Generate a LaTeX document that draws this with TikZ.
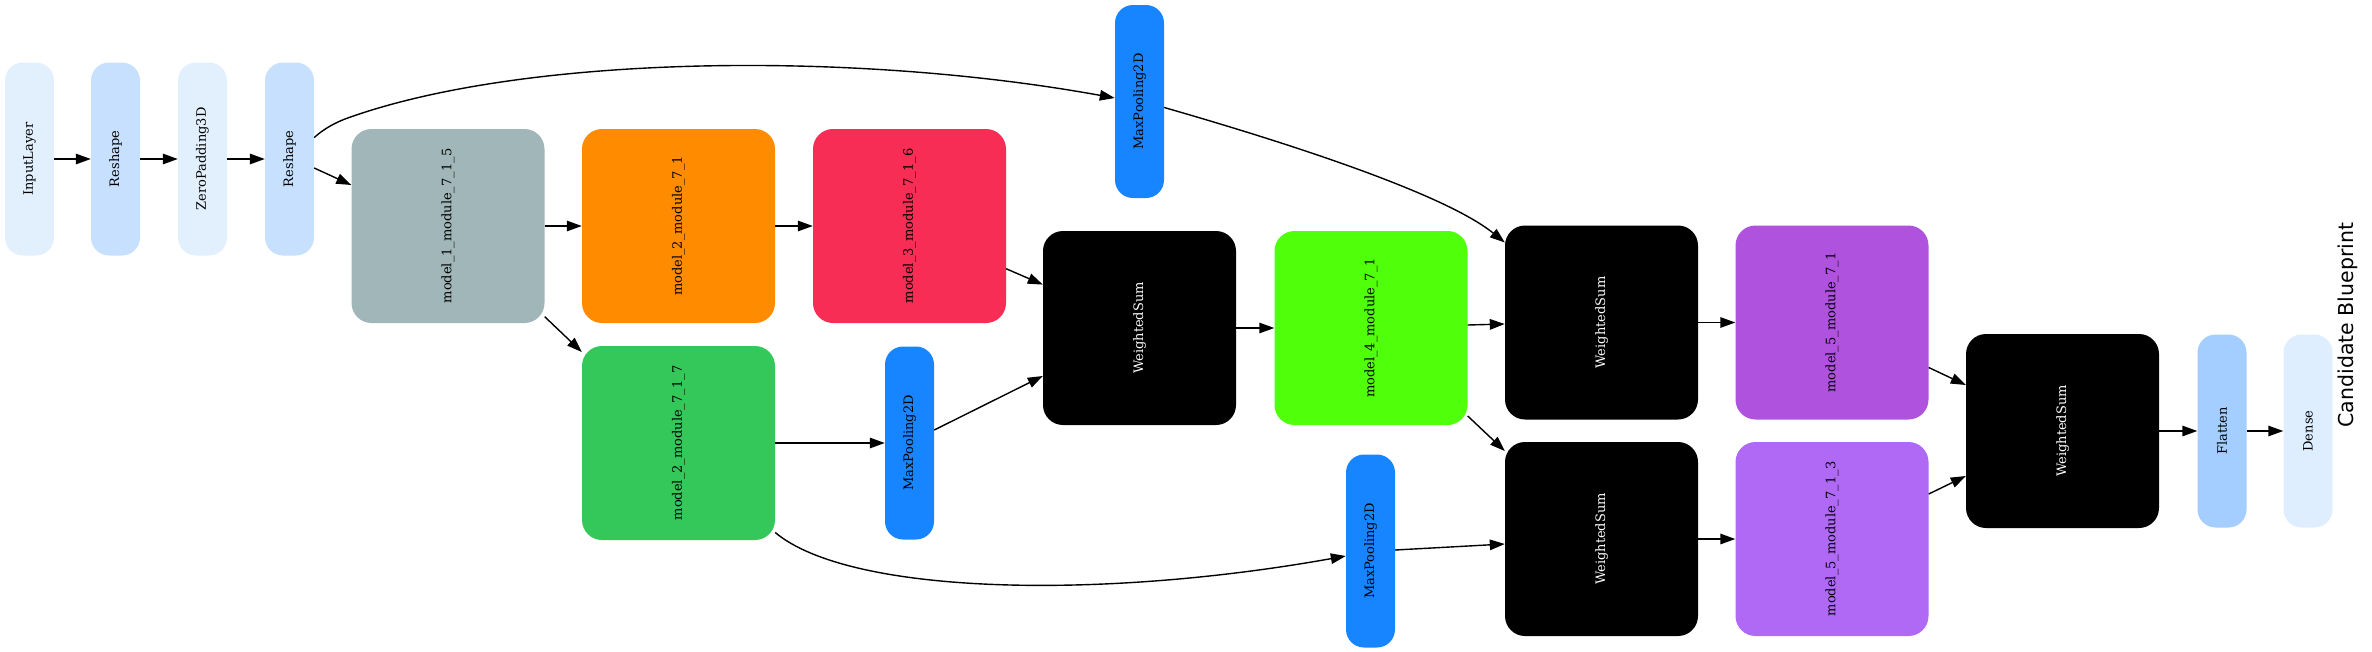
\documentclass[tikz,border=0pt]{standalone}
\usepackage{fontspec}
\usetikzlibrary{arrows.meta,calc}
\newfontfamily\nodeserif{DejaVu Serif}
\newfontfamily\titlesans{DejaVu Sans}
\definecolor{cInput}{RGB}{226,240,254}
\definecolor{cReshape}{RGB}{198,224,254}
\definecolor{cGrayTeal}{RGB}{160,182,184}
\definecolor{cOrange}{RGB}{255,140,0}
\definecolor{cRed}{RGB}{247,45,85}
\definecolor{cBlue}{RGB}{22,133,255}
\definecolor{cGreen}{RGB}{52,199,89}
\definecolor{cLime}{RGB}{80,255,10}
\definecolor{cPurpleA}{RGB}{175,82,222}
\definecolor{cPurpleB}{RGB}{176,105,245}
\definecolor{cFlatten}{RGB}{163,206,255}
\definecolor{cDense}{RGB}{222,238,255}
\tikzset{
  basebox/.style={rectangle, inner sep=0pt, font={\nodeserif\fontsize{13}{15}\selectfont}},
  smallbox/.style={basebox, minimum width=49pt, minimum height=193pt, rounded corners=18pt},
  bigbox/.style={basebox, minimum width=193pt, minimum height=194pt, rounded corners=20pt},
  wsbox/.style={bigbox, fill=black, text=white},
  edge/.style={line width=1.4pt, -{Triangle[length=15pt,width=10.5pt]}}
}
\newcommand{\vtext}[1]{\rotatebox{90}{#1}}
\begin{document}
\begin{tikzpicture}[x=1pt,y=-1pt]
\useasboundingbox (0,0) rectangle (2372,651);
% nodes
\node[smallbox, fill=cInput]   (inl) at (29.5,159)  {\vtext{InputLayer}};
\node[smallbox, fill=cReshape] (rs1) at (115.5,159) {\vtext{Reshape}};
\node[smallbox, fill=cInput]   (zp)  at (202.5,159) {\vtext{ZeroPadding3D}};
\node[smallbox, fill=cReshape] (rs2) at (289.5,159) {\vtext{Reshape}};
\node[bigbox, fill=cGrayTeal]  (m1)  at (448,226)   {\vtext{model\_1\_module\_7\_1\_5}};
\node[bigbox, fill=cOrange]    (m2a) at (678.5,226) {\vtext{model\_2\_module\_7\_1}};
\node[bigbox, fill=cGreen]     (m2b) at (678.5,443) {\vtext{model\_2\_module\_7\_1\_7}};
\node[bigbox, fill=cRed]       (m3)  at (909.5,226) {\vtext{model\_3\_module\_7\_1\_6}};
\node[smallbox, fill=cBlue]    (mpT) at (1139.5,101.5) {\vtext{MaxPooling2D}};
\node[smallbox, fill=cBlue]    (mpM) at (909.5,443) {\vtext{MaxPooling2D}};
\node[wsbox]                   (ws1) at (1139.5,328) {\vtext{WeightedSum}};
\node[bigbox, fill=cLime]      (m4)  at (1371,328)  {\vtext{model\_4\_module\_7\_1}};
\node[smallbox, fill=cBlue]    (mpB) at (1370.5,551) {\vtext{MaxPooling2D}};
\node[wsbox]                   (wsT) at (1601.5,322.5) {\vtext{WeightedSum}};
\node[wsbox]                   (wsB) at (1601.5,539) {\vtext{WeightedSum}};
\node[bigbox, fill=cPurpleA]   (m5a) at (1832,322.5) {\vtext{model\_5\_module\_7\_1}};
\node[bigbox, fill=cPurpleB]   (m5b) at (1832,539)  {\vtext{model\_5\_module\_7\_1\_3}};
\node[wsbox]                   (wsF) at (2062.5,431) {\vtext{WeightedSum}};
\node[smallbox, fill=cFlatten] (fl)  at (2222,431)  {\vtext{Flatten}};
\node[smallbox, fill=cDense]   (de)  at (2308,431)  {\vtext{Dense}};
\node[inner sep=0pt, font={\titlesans\fontsize{20.5}{24}\selectfont}] (title) at (2348,325) {\vtext{Candidate Blueprint}};
% edges
\draw[edge] (inl) -- (rs1);
\draw[edge] (rs1) -- (zp);
\draw[edge] (zp) -- (rs2);
\draw[edge] ($(rs2.east)+(0,9)$) -- ($(m1.west)+(0,-41)$);
\draw[edge] ($(rs2.east)+(0,-21.5)$) .. controls (325,128) and (335,123) .. (345,119)
   .. controls (520,55) and (850,50) .. ($(mpT.west)+(0,-3.5)$);
\draw[edge] (m1) -- (m2a);
\draw[edge] ($(m1.east)+(0,90.7)$) -- ($(m2b.west)+(0,-91)$);
\draw[edge] (m2a) -- (m3);
\draw[edge] ($(m3.east)+(0,42.75)$) -- ($(ws1.west)+(0,-43.4)$);
\draw[edge] (m2b) -- (mpM);
\draw[edge] ($(mpM.east)+(0,-13)$) -- ($(ws1.west)+(0,48)$);
\draw[edge] ($(m2b.east)+(0,89.5)$) .. controls (850,595) and (1100,600) .. ($(mpB.west)+(0,5)$);
\draw[edge] (ws1) -- (m4);
\draw[edge] ($(mpT.east)+(0,6)$) .. controls (1260,135) and (1440,190) .. ($(wsT.west)+(0,-80)$);
\draw[edge] ($(m4.east)+(0,-3)$) -- ($(wsT.west)+(0,1.5)$);
\draw[edge] ($(m4.east)+(0,88)$) -- ($(wsB.west)+(0,-88)$);
\draw[edge] ($(mpB.east)+(0,-1)$) -- ($(wsB.west)+(0,5)$);
\draw[edge] (wsT) -- (m5a);
\draw[edge] (wsB) -- (m5b);
\draw[edge] ($(m5a.east)+(0,45)$) -- ($(wsF.west)+(0,-46)$);
\draw[edge] ($(m5b.east)+(0,-45)$) -- ($(wsF.west)+(0,45)$);
\draw[edge] (wsF) -- (fl);
\draw[edge] (fl) -- (de);
\end{tikzpicture}
\end{document}
